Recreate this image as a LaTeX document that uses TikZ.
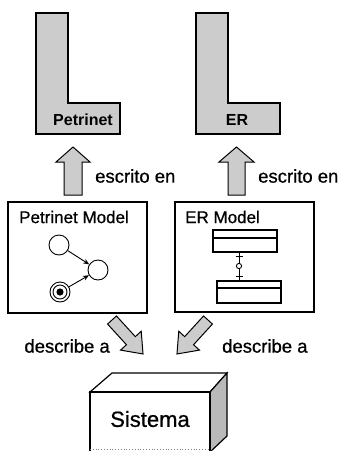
\documentclass[tikz,border=0pt]{standalone}
\usepackage{fontspec}
\setmainfont{Liberation Sans}
% a slightly heavier face for the labels
\newfontfamily\heavy{Liberation Sans}[BoldFont={Liberation Sans}, BoldFeatures={FakeBold=0.7}]
\usetikzlibrary{arrows.meta}
\begin{document}
\begin{tikzpicture}[x=1pt,y=-1pt,
  lang/.style={draw=black, line width=1.4pt, fill=gray!40, line join=miter},
  blockarrow/.style={draw=black, line width=1pt, fill=gray!40, line join=miter},
  panel/.style={draw=black, line width=1.3pt},
  place/.style={circle, draw, line width=0.9pt, minimum size=20pt, inner sep=0pt},
  entity/.style={draw, line width=1.1pt, minimum width=64pt, minimum height=22pt, inner sep=0pt},
  title/.style={font=\heavy\bfseries\fontsize{17}{19}\selectfont, inner sep=0pt, anchor=west},
  label/.style={font=\heavy\bfseries\fontsize{18.5}{20}\selectfont, inner sep=0pt},
  langname/.style={font=\bfseries\fontsize{16}{18}\selectfont, inner sep=0pt},
  arc/.style={line width=0.9pt, -{Stealth[length=6pt,width=5pt]}},
]
\useasboundingbox (0,0) rectangle (349,451);

% Language "L" blocks
\draw[lang] (36,13) -- (68,13) -- (68,103) -- (120,103) -- (120,134) -- (36,134) -- cycle;
\node[langname] (petrinetlang) at (83,120) {Petrinet};
\draw[lang] (196,13) -- (228,13) -- (228,103) -- (280,103) -- (280,134) -- (196,134) -- cycle;
\node[langname] (erlang) at (237,120) {ER};

% "escrito en" arrows
\draw[blockarrow] (64,195) -- (64,162) -- (56,162) -- (73,147) -- (90,162) -- (82,162) -- (82,195) -- cycle;
\node[label, anchor=west] (esc1) at (95,176) {escrito en};
\draw[blockarrow] (228,195) -- (228,162) -- (219,162) -- (236.5,147) -- (254,162) -- (245,162) -- (245,195) -- cycle;
\node[label, anchor=west] (esc2) at (258,176) {escrito en};

% Petri net model panel
\node[panel, minimum width=139pt, minimum height=111pt, inner sep=0pt] (pnpanel) at (77.5,257.5) {};
\node[title] (pntitle) at (19,217) {Petrinet Model};
\node[place] (p1) at (59,245) {};
\node[place] (p2) at (98,270) {};
\node[place] (p3) at (60,292) {};
\draw[line width=0.9pt] (p3.center) circle (7pt);
\fill (p3.center) circle (3.6pt);
\draw[arc] (p1) -- (p2);
\draw[arc] (p3) -- (p2);

% ER model panel
\node[panel, minimum width=139pt, minimum height=110pt, inner sep=0pt] (erpanel) at (244.5,257) {};
\node[title] (ertitle) at (185,217) {ER Model};
\node[entity] (e1) at (245,241) {};
\draw[line width=1.1pt] (e1.west |- 0,238) -- (e1.east |- 0,238);
\node[entity] (e2) at (249,292) {};
\draw[line width=1.1pt] (e2.west |- 0,288) -- (e2.east |- 0,288);
\draw[line width=1pt] (e1.south -| 239,0) -- (e2.north -| 239,0);
\draw[line width=1pt] (235.5,256) -- (242.5,256);
\draw[line width=0.9pt, fill=white] (239,266) circle (2.6pt);
\draw[line width=1pt] (235.5,276) -- (242.5,276);

% "describe a" arrows
\begin{scope}[shift={(112,320)}, rotate=-47.6]
  \draw[blockarrow] (0,-6) -- (28,-6) -- (28,-14) -- (46,0) -- (28,14) -- (28,6) -- (0,6) -- cycle;
\end{scope}
\node[label, anchor=east] (desc1) at (110,346) {describe a};
\begin{scope}[shift={(208,320)}, rotate=-132.4]
  \draw[blockarrow] (0,-6) -- (28,-6) -- (28,-14) -- (46,0) -- (28,14) -- (28,6) -- (0,6) -- cycle;
\end{scope}
\node[label, anchor=west] (desc2) at (222,346) {describe a};

% System box
\begin{scope}
\clip (0,0) rectangle (349,451);
\draw[line width=1.2pt, fill=white, line join=miter] (90,392) -- (112,373) -- (227,373) -- (210,392) -- cycle;
\draw[line width=1.2pt, fill=gray!55, line join=miter] (210,392) -- (227,373) -- (227,436) -- (210,452) -- cycle;
\draw[line width=1.2pt] (90,452) -- (90,392) -- (210,392) -- (210,452);
\draw[line width=0.8pt, dotted, gray] (90,449) -- (210,449);
\end{scope}
\node[font=\heavy\bfseries\fontsize{22}{24}\selectfont, inner sep=0pt] (sys) at (150,419) {Sistema};
\end{tikzpicture}
\end{document}
